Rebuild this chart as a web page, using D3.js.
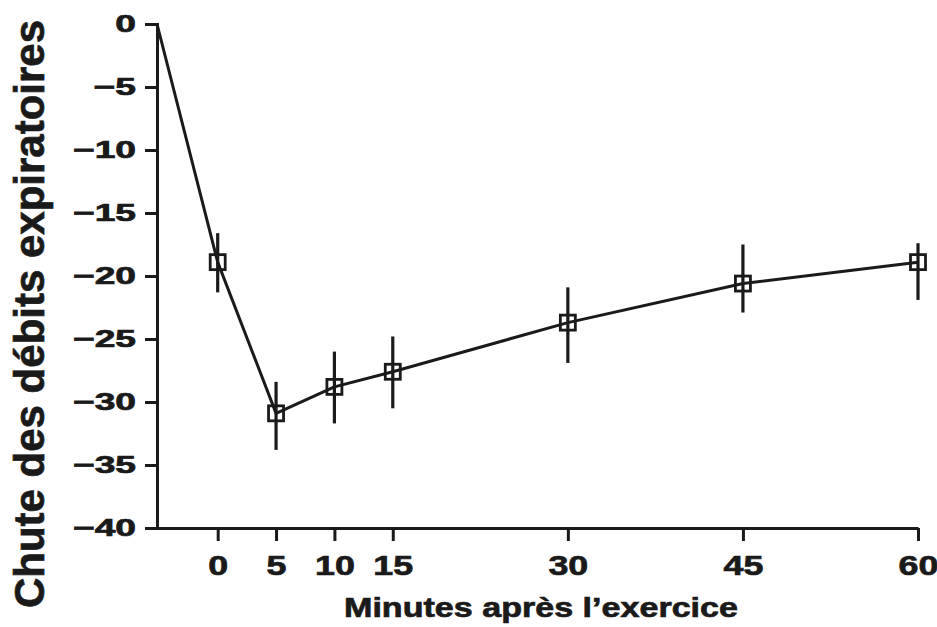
<!DOCTYPE html>
<html>
<head>
<meta charset="utf-8">
<script src="https://cdn.jsdelivr.net/npm/d3@7"></script>
<style>
  body { margin: 0; background: #fff; }
  svg { display: block; }
  text { font-family: "Liberation Sans", Arial, sans-serif; font-weight: bold; fill: #1a1a1a; stroke: #1a1a1a; stroke-width: 0.7px; }
</style>
</head>
<body>
<svg></svg>
<script>
const width = 937;
const height = 627;

// minutes after exercise (first point = baseline before exercise)
const minutes = [-5.2, 0, 5, 10, 15, 30, 45, 60];
const drop = [0, -18.9, -30.9, -28.8, -27.6, -23.7, -20.6, -18.9];
const errTop = [null, -16.6, -28.4, -26.0, -24.8, -20.9, -17.5, -17.4];
const errBottom = [null, -21.3, -33.8, -31.7, -30.5, -26.9, -22.9, -21.9];

const xTicks = [0, 5, 10, 15, 30, 45, 60];
const yTicks = [0, -5, -10, -15, -20, -25, -30, -35, -40];

const ink = '#1a1a1a';

const points = minutes.map((m, i) => ({
  m, v: drop[i], hi: errTop[i], lo: errBottom[i]
}));

const svg = d3.select('svg')
  .attr('width', width)
  .attr('height', height);

const x = d3.scaleLinear().domain([-5.2, 60]).range([157, 918]);
const y = d3.scaleLinear().domain([-40, 0]).range([528, 24]);

// widen the tick labels horizontally around their anchor
function stretch(sel, k) {
  sel.each(function() {
    const t = d3.select(this);
    const tx = +t.attr('x') || 0;
    const ty = +t.attr('y') || 0;
    t.attr('x', 0).attr('y', 0).attr('transform', `translate(${tx},${ty}) scale(${k},1)`);
  });
}

// y axis
const yAxis = svg.append('g')
  .attr('transform', `translate(${x(-5.2)},0)`)
  .call(d3.axisLeft(y).tickValues(yTicks).tickSize(12).tickSizeOuter(12).tickPadding(9));

yAxis.selectAll('path, line').attr('stroke', ink).attr('stroke-width', 3);
yAxis.selectAll('text')
  .attr('font-size', 24)
  .call(stretch, 1.55);

// x axis
const xAxis = svg.append('g')
  .attr('transform', `translate(0,${y(-40)})`)
  .call(d3.axisBottom(x).tickValues(xTicks).tickSize(13).tickSizeOuter(0).tickPadding(14));

xAxis.selectAll('path, line').attr('stroke', ink).attr('stroke-width', 3);
xAxis.selectAll('text')
  .attr('font-size', 28)
  .call(stretch, 1.28);

// titles
svg.append('text')
  .attr('transform', 'translate(44,314) rotate(-90)')
  .attr('text-anchor', 'middle')
  .attr('font-size', 42)
  .text('Chute des débits expiratoires');

svg.append('text')
  .attr('x', 344)
  .attr('y', 617)
  .attr('font-size', 28)
  .attr('textLength', 394)
  .attr('lengthAdjust', 'spacingAndGlyphs')
  .text('Minutes après l’exercice');

// curve
const line = d3.line()
  .x(d => x(d.m))
  .y(d => y(d.v));

svg.append('path')
  .datum(points)
  .attr('fill', 'none')
  .attr('stroke', ink)
  .attr('stroke-width', 3)
  .attr('stroke-linejoin', 'round')
  .attr('d', line);

const measured = points.filter(d => d.hi !== null);

// error bars
svg.append('g')
  .selectAll('line')
  .data(measured)
  .join('line')
    .attr('x1', d => x(d.m))
    .attr('x2', d => x(d.m))
    .attr('y1', d => y(d.hi))
    .attr('y2', d => y(d.lo))
    .attr('stroke', ink)
    .attr('stroke-width', 3.2);

// open square markers
const s = 15;
svg.append('g')
  .selectAll('rect')
  .data(measured)
  .join('rect')
    .attr('x', d => x(d.m) - s / 2)
    .attr('y', d => y(d.v) - s / 2)
    .attr('width', s)
    .attr('height', s)
    .attr('fill', 'none')
    .attr('stroke', ink)
    .attr('stroke-width', 2.8);
</script>
</body>
</html>
